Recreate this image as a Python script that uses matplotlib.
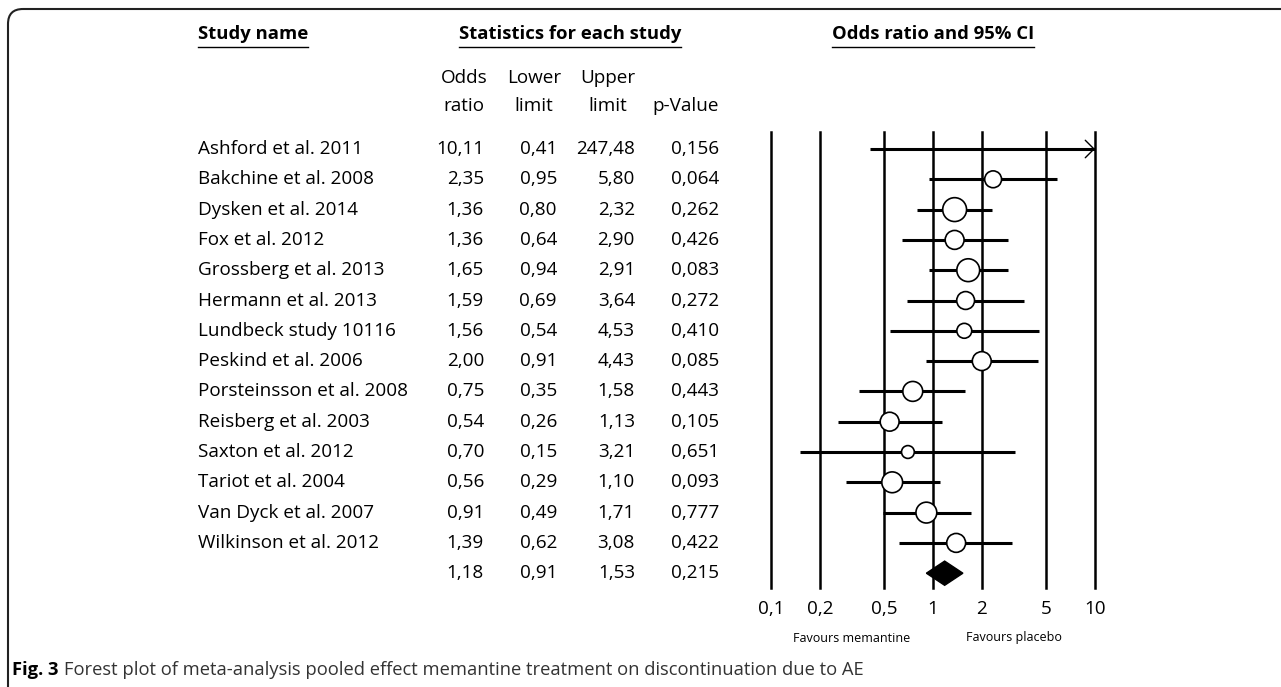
import matplotlib
matplotlib.use("Agg")
import matplotlib.pyplot as plt
import numpy as np
from matplotlib.patches import FancyBboxPatch, Polygon
from matplotlib.transforms import blended_transform_factory
from matplotlib.ticker import NullLocator

# data
studies = ["Ashford et al. 2011", "Bakchine et al. 2008", "Dysken et al. 2014",
           "Fox et al. 2012", "Grossberg et al. 2013", "Hermann et al. 2013",
           "Lundbeck study 10116", "Peskind et al. 2006", "Porsteinsson et al. 2008",
           "Reisberg et al. 2003", "Saxton et al. 2012", "Tariot et al. 2004",
           "Van Dyck et al. 2007", "Wilkinson et al. 2012"]
odds = [10.11, 2.35, 1.36, 1.36, 1.65, 1.59, 1.56, 2.00, 0.75, 0.54, 0.70, 0.56, 0.91, 1.39]
lower = [0.41, 0.95, 0.80, 0.64, 0.94, 0.69, 0.54, 0.91, 0.35, 0.26, 0.15, 0.29, 0.49, 0.62]
upper = [247.48, 5.80, 2.32, 2.90, 2.91, 3.64, 4.53, 4.43, 1.58, 1.13, 3.21, 1.10, 1.71, 3.08]
pvals = [0.156, 0.064, 0.262, 0.426, 0.083, 0.272, 0.410, 0.085, 0.443, 0.105, 0.651, 0.093, 0.777, 0.422]
# relative weights (%)
weights = [1.3, 5.9, 11.8, 7.4, 10.8, 6.6, 4.6, 7.4, 8.2, 7.4, 3.4, 9.0, 9.0, 7.4]
pooled_or, pooled_lo, pooled_hi, pooled_p = 1.18, 0.91, 1.53, 0.215
ticks = [0.1, 0.2, 0.5, 1, 2, 5, 10]
tick_labels = ["0,1", "0,2", "0,5", "1", "2", "5", "10"]

FONT = "Open Sans"
FS = 13.6


def fmt(v, d=2):
    return f"{v:.{d}f}".replace(".", ",")


W, H = 1281, 687
fig = plt.figure(figsize=(W / 100, H / 100), dpi=100)
bg = fig.add_axes([0, 0, 1, 1])
bg.set_xlim(0, W)
bg.set_ylim(H, 0)
bg.axis("off")

# rounded frame (open to the right and bottom)
frame = FancyBboxPatch((8, 9), W + 50, H + 50, boxstyle="round,pad=0,rounding_size=15",
                       fill=False, ec="#222222", lw=1.5)
bg.add_patch(frame)

# forest panel
x0, x1, ytop, ybot = 771, 1095, 132, 588
row0, rowh = 149, 30.3
ax = fig.add_axes([x0 / W, 1 - ybot / H, (x1 - x0) / W, (ybot - ytop) / H])
ax.set_xscale("log")
ax.set_xlim(0.1, 10)
ax.set_ylim((ybot - row0) / rowh, (ytop - row0) / rowh)
ax.set_facecolor("none")
for s in ax.spines.values():
    s.set_visible(False)
ax.set_yticks([])
ax.set_xticks(ticks, tick_labels)
ax.xaxis.set_minor_locator(NullLocator())
ax.tick_params(axis="x", length=0, pad=9, labelsize=FS)
for lab in ax.get_xticklabels():
    lab.set_fontfamily(FONT)
for t in ticks:
    ax.axvline(t, color="black", lw=1.8, zorder=1, clip_on=False)

rows = np.arange(len(studies))
for i in rows:
    hi = min(upper[i], 10)
    ax.plot([lower[i], hi], [i, i], color="black", lw=2.2, solid_capstyle="butt", zorder=2)
    if upper[i] > 10:
        ax.annotate("", xy=(10, i), xytext=(8, i),
                    arrowprops=dict(arrowstyle="->,head_length=0.35,head_width=0.35",
                                    lw=1.0, color="black", mutation_scale=18,
                                    shrinkA=0, shrinkB=0))

odds_a = np.array(odds)
inside = odds_a <= 10
ax.scatter(odds_a[inside], rows[inside], s=np.array(weights)[inside] * 25,
           facecolor="white", edgecolor="black", lw=1.2, zorder=3)

ps = len(studies)
h = 0.4
ax.add_patch(Polygon([(pooled_lo, ps), (pooled_or, ps - h), (pooled_hi, ps), (pooled_or, ps + h)],
                     closed=True, fc="black", ec="black", zorder=3))

# table text
tr = blended_transform_factory(bg.transData, ax.transData)
col_right = [484, 557, 635, 719]
for i, name in enumerate(studies):
    fig.text(198, i, name, transform=tr, ha="left", va="center", fontsize=FS, family=FONT)
    vals = [fmt(odds[i]), fmt(lower[i]), fmt(upper[i]), fmt(pvals[i], 3)]
    for xr, v in zip(col_right, vals):
        fig.text(xr, i, v, transform=tr, ha="right", va="center", fontsize=FS, family=FONT)
vals = [fmt(pooled_or), fmt(pooled_lo), fmt(pooled_hi), fmt(pooled_p, 3)]
for xr, v in zip(col_right, vals):
    fig.text(xr, ps, v, transform=tr, ha="right", va="center", fontsize=FS, family=FONT)

# column headers
for xc, l1, l2 in [(464, "Odds", "ratio"), (534, "Lower", "limit"), (608, "Upper", "limit")]:
    bg.text(xc, 78, l1, ha="center", va="center", fontsize=FS, family=FONT)
    bg.text(xc, 106, l2, ha="center", va="center", fontsize=FS, family=FONT)
bg.text(719, 106, "p-Value", ha="right", va="center", fontsize=FS, family=FONT)

# section headers with underline
heads = [bg.text(198, 34, "Study name", ha="left", va="center", fontsize=13.3, weight="bold", family=FONT),
         bg.text(570, 34, "Statistics for each study", ha="center", va="center", fontsize=13.3, weight="bold", family=FONT),
         bg.text(933, 34, "Odds ratio and 95% CI", ha="center", va="center", fontsize=13.3, weight="bold", family=FONT)]

# favours labels
bg.text(852, 638, "Favours memantine", ha="center", va="center", fontsize=9, family=FONT)
bg.text(1014, 638, "Favours placebo", ha="center", va="center", fontsize=9, family=FONT)

# caption
cap1 = bg.text(12, 670, "Fig. 3", ha="left", va="center", fontsize=13.2, weight="bold", family=FONT)

fig.canvas.draw()
r = fig.canvas.get_renderer()
inv = bg.transData.inverted()
for t in heads:
    bb = t.get_window_extent(r)
    (xa, _), (xb, _) = inv.transform([(bb.x0, bb.y0), (bb.x1, bb.y0)])
    bg.plot([xa, xb], [47, 47], color="black", lw=1.0)
bb = cap1.get_window_extent(r)
xa = inv.transform((bb.x1, bb.y0))[0]
bg.text(xa + 5, 670, "Forest plot of meta-analysis pooled effect memantine treatment on discontinuation due to AE",
        ha="left", va="center", fontsize=13.2, color="#333333", family=FONT)

fig.savefig("out.png", dpi=100)
